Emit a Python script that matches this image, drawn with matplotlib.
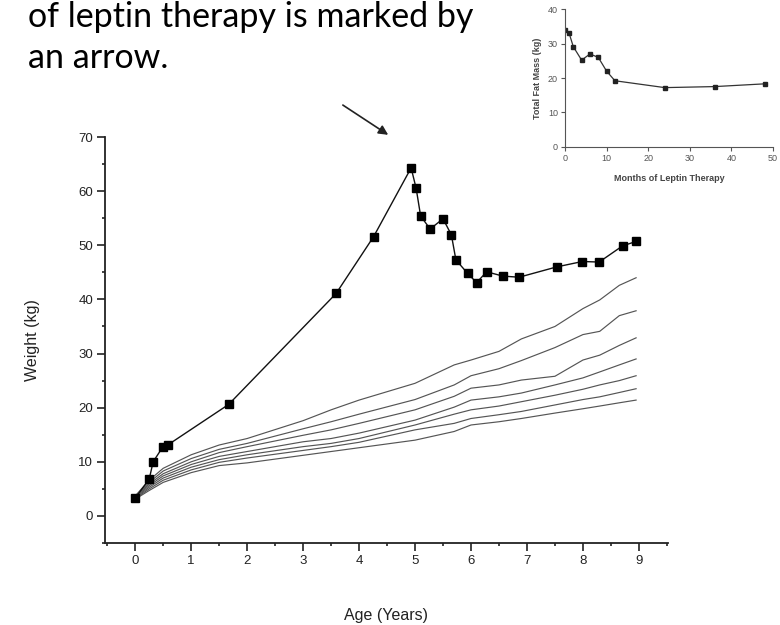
import matplotlib
matplotlib.use("Agg")
import matplotlib.pyplot as plt
from matplotlib.ticker import MultipleLocator

# patient weight (kg) by age (years)
age = [0, 0.25, 0.32, 0.49, 0.58, 1.67, 3.59, 4.26, 4.93, 5.02, 5.10, 5.27, 5.50,
       5.65, 5.73, 5.94, 6.10, 6.28, 6.57, 6.86, 7.53, 7.99, 8.29, 8.71, 8.95]
weight = [3.3, 6.8, 10.0, 12.7, 13.1, 20.6, 41.1, 51.6, 64.3, 60.5, 55.4, 53.0, 54.9,
          51.9, 47.3, 44.8, 43.1, 45.1, 44.3, 44.1, 46.0, 47.0, 46.9, 49.9, 50.7]

# reference growth percentile curves
pct_age = [0, 0.25, 0.5, 1, 1.5, 2, 3, 3.5, 4, 5, 5.7, 6, 6.5, 6.9, 7.5, 8, 8.3, 8.65, 8.95]
pct_97 = [3.7, 6.6, 8.8, 11.3, 13.1, 14.3, 17.6, 19.6, 21.4, 24.5, 27.9, 28.8, 30.4, 32.7, 35.0, 38.3, 39.9, 42.6, 44.0]
pct_90 = [3.6, 6.2, 8.3, 10.6, 12.3, 13.4, 16.1, 17.4, 18.8, 21.5, 24.2, 25.9, 27.2, 28.7, 31.1, 33.5, 34.1, 37.0, 37.9]
pct_75 = [3.5, 5.9, 7.8, 10.0, 11.7, 12.8, 14.9, 15.9, 17.1, 19.6, 22.1, 23.6, 24.2, 25.1, 25.8, 28.8, 29.7, 31.5, 32.9]
pct_50 = [3.4, 5.6, 7.4, 9.5, 11.0, 11.9, 13.7, 14.3, 15.3, 17.7, 20.1, 21.4, 22.0, 22.7, 24.2, 25.5, 26.6, 27.9, 29.0]
pct_25 = [3.3, 5.3, 7.0, 9.0, 10.4, 11.3, 12.8, 13.4, 14.3, 16.8, 18.8, 19.6, 20.3, 21.1, 22.3, 23.4, 24.2, 25.0, 25.9]
pct_10 = [3.2, 5.0, 6.6, 8.5, 9.9, 10.7, 12.1, 12.8, 13.6, 15.9, 17.1, 18.0, 18.7, 19.3, 20.5, 21.5, 22.0, 22.8, 23.5]
pct_3 = [3.1, 4.7, 6.2, 8.0, 9.3, 9.8, 11.2, 11.9, 12.6, 14.0, 15.6, 16.8, 17.4, 18.0, 19.0, 19.8, 20.3, 20.9, 21.4]
percentiles = [pct_97, pct_90, pct_75, pct_50, pct_25, pct_10, pct_3]

# inset: total fat mass during leptin therapy
months = [0, 1, 2, 4, 6, 8, 10, 12, 24, 36, 48]
fat_mass = [34.0, 33.0, 29.1, 25.2, 27.0, 26.0, 22.0, 19.2, 17.2, 17.5, 18.3]

plt.rcParams['font.family'] = ['Liberation Sans', 'DejaVu Sans']

fig = plt.figure(figsize=(7.8, 6.25), dpi=100)

# caption fragment at the top
cap_font = ['Lato', 'DejaVu Sans']
fig.text(28 / 780, 1 - 27 / 625, "of leptin therapy is marked by", fontsize=24.5,
         family=cap_font, va='baseline', ha='left', color='black')
fig.text(28 / 780, 1 - 68 / 625, "an arrow.", fontsize=24.5,
         family=cap_font, va='baseline', ha='left', color='black')

# main chart
ax = fig.add_axes([105 / 780, 82 / 625, 563 / 780, 406 / 625])
for p in percentiles:
    ax.plot(pct_age, p, color='#555555', lw=0.85)
ax.plot(age, weight, color='#111111', lw=1.0, marker='s', ms=5.5,
        mfc='black', mec='black')

ax.set_xlim(-0.54, 9.52)
ax.set_ylim(-5, 70)
ax.spines['top'].set_visible(False)
ax.spines['right'].set_visible(False)
for s in ('left', 'bottom'):
    ax.spines[s].set_linewidth(1.3)
    ax.spines[s].set_color('#222222')

ax.xaxis.set_minor_locator(MultipleLocator(0.5))
ax.yaxis.set_minor_locator(MultipleLocator(5))
ax.set_xticks(range(0, 10))
ax.set_yticks(range(0, 71, 10))
ax.tick_params(which='major', direction='out', length=5.5, width=1.2, color='#222222',
               labelsize=9.5, labelcolor='#222222', pad=3)
ax.tick_params(which='minor', direction='out', length=2.5, width=1.2, color='#222222')

ax.set_xlabel("Age (Years)", fontsize=11.5, color='#222222')
ax.set_ylabel("Weight (kg)", fontsize=11.5, color='#222222')
ax.xaxis.set_label_coords(0.5, -0.16)
ax.yaxis.set_label_coords(-0.115, 0.5)

# arrow marking start of leptin therapy
ax.annotate("", xy=(4.52, 70.4), xytext=(3.71, 75.9), annotation_clip=False,
            arrowprops=dict(arrowstyle='-|>', color='#222222', lw=1.2,
                            mutation_scale=14, shrinkA=0, shrinkB=0))

# inset chart
ins = fig.add_axes([565 / 780, 1 - 146.7 / 625, 208 / 780, 137.4 / 625])
ins.plot(months, fat_mass, color='#333333', lw=0.9, marker='s', ms=3,
         mfc='#222222', mec='#222222')
ins.set_xlim(0, 50)
ins.set_ylim(0, 40)
ins.spines['top'].set_visible(False)
ins.spines['right'].set_visible(False)
for s in ('left', 'bottom'):
    ins.spines[s].set_linewidth(0.8)
    ins.spines[s].set_color('#555555')
ins.set_xticks(range(0, 51, 10))
ins.set_yticks(range(0, 41, 10))
ins.tick_params(direction='out', length=3, width=0.8, color='#555555',
                labelsize=6.5, labelcolor='#555555', pad=2)
ins.set_xlabel("Months of Leptin Therapy", fontsize=6.5, color='#444444',
               fontweight='bold')
ins.set_ylabel("Total Fat Mass (kg)", fontsize=6.5, color='#444444',
               fontweight='bold')
ins.xaxis.set_label_coords(0.5, -0.2)
ins.yaxis.set_label_coords(-0.11, 0.5)

fig.savefig("out.png", dpi=100)
